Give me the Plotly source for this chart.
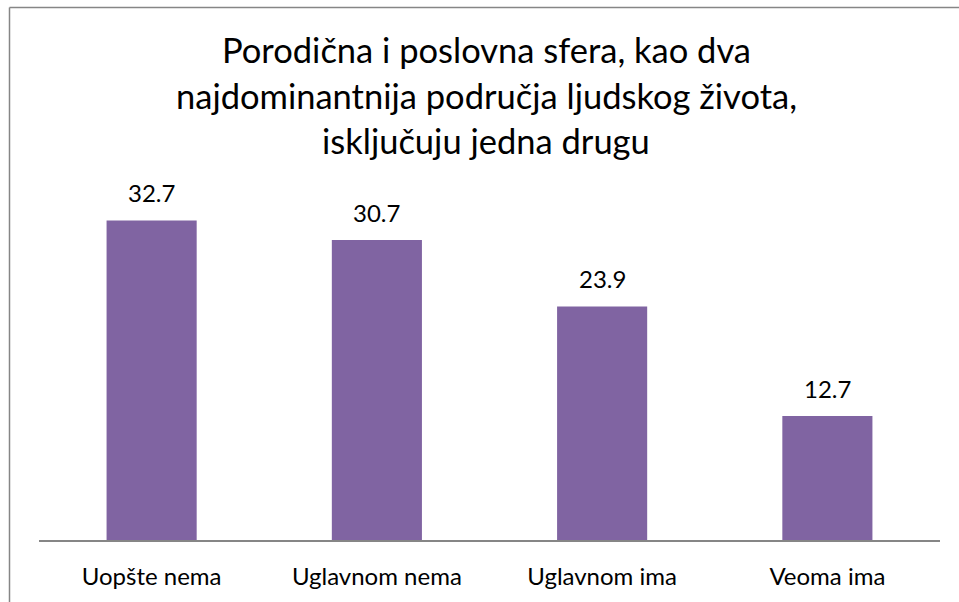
import plotly.graph_objects as go

categories = ["Uopšte nema", "Uglavnom nema", "Uglavnom ima", "Veoma ima"]
values = [32.7, 30.7, 23.9, 12.7]
title_lines = ["Porodična i poslovna sfera, kao dva",
               "najdominantnija područja ljudskog života,",
               "isključuju jedna drugu"]

W, H = 959, 602
L, R, T, B = 39, 19, 198, 62
pw, ph = W - L - R, H - T - B

def px_x(x):
    return (x - L) / pw

def px_y(y):
    return (H - B - y) / ph

FONT = "Lato"

fig = go.Figure()
fig.add_trace(go.Bar(x=categories, y=values, marker=dict(color="#8064A2", line=dict(width=0)),
                     width=0.4, hoverinfo="skip"))

for c, v in zip(categories, values):
    fig.add_annotation(x=c, y=v, xref="x", yref="y", text=f"{v:.1f}", showarrow=False,
                       yanchor="bottom", yshift=11, font=dict(family=FONT, size=24, color="#000000"))

for i, line in enumerate(title_lines):
    fig.add_annotation(x=px_x(486), y=px_y(49 + 46 * i), xref="paper", yref="paper", text=line,
                       showarrow=False, xanchor="center", yanchor="middle",
                       font=dict(family=FONT, size=34.5, color="#000000"))

border = dict(color="#868686", width=1.5)
fig.add_shape(type="line", xref="paper", yref="paper",
              x0=px_x(9.5), x1=px_x(9.5), y0=px_y(7.5), y1=px_y(640), line=border, layer="below")
fig.add_shape(type="line", xref="paper", yref="paper",
              x0=px_x(9.5), x1=px_x(990), y0=px_y(7.5), y1=px_y(7.5), line=border, layer="below")

fig.update_layout(
    width=W, height=H,
    margin=dict(l=L, r=R, t=T, b=B, pad=0),
    paper_bgcolor="white", plot_bgcolor="white",
    showlegend=False,
    bargap=0.6,
    xaxis=dict(showline=True, linecolor="#868686", linewidth=2, ticks="", showgrid=False,
               tickfont=dict(family=FONT, size=24, color="#000000"), ticklabelstandoff=14),
    yaxis=dict(range=[0, 35], visible=False, showgrid=False, zeroline=False),
)

fig.write_html("out.html", config={"displayModeBar": False},
               post_script="document.body.style.margin='0';document.body.style.overflow='hidden';")
